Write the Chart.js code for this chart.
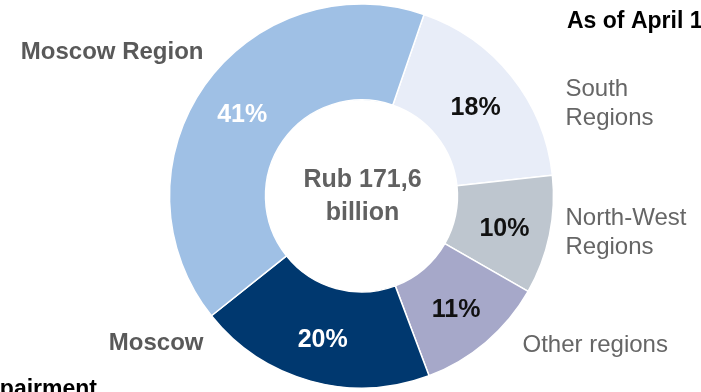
<!DOCTYPE html>
<html>
<head>
<meta charset="utf-8">
<script src="https://cdn.jsdelivr.net/npm/chart.js@4"></script>
<style>
  html, body { margin: 0; padding: 0; background: #fff; }
  #wrap { width: 701px; height: 392px; position: relative; }
</style>
</head>
<body>
<div id="wrap"><canvas id="c" width="701" height="392"></canvas></div>
<script>
// Loan portfolio by region, share of total (%)
const regions = ['South Regions', 'North-West Regions', 'Other regions', 'Moscow', 'Moscow Region'];
const shares = [18, 10, 11, 20, 41];
const sliceColors = ['#e8edf8', '#bec6cf', '#a6a8c9', '#00386f', '#9fc0e5'];
const shareTextColors = ['#111111', '#111111', '#111111', '#ffffff', '#ffffff'];
const totalLines = ['Rub 171,6', 'billion'];

// External region captions: [lines, dx from centre, baseline dy from centre, align, weight, size]
const captions = [
  [['South', 'Regions'], 204, -100, 'left', 'normal', 24],
  [['North-West', 'Regions'], 204, 29, 'left', 'normal', 24],
  [['Other regions'], 161, 156, 'left', 'normal', 24],
  [['Moscow'], -158, 154, 'right', 'bold', 24],
  [['Moscow Region'], -158, -137, 'right', 'bold', 24]
];

const FONT = '"Liberation Sans", Arial, Helvetica, sans-serif';

const labelPlugin = {
  id: 'labels',
  afterDatasetsDraw(chart) {
    const ctx = chart.ctx;
    const arcs = chart.getDatasetMeta(0).data;
    const cx = arcs[0].x, cy = arcs[0].y;
    ctx.save();

    // percentage inside each slice
    ctx.font = 'bold 25px ' + FONT;
    ctx.textAlign = 'center';
    ctx.textBaseline = 'middle';
    arcs.forEach((arc, i) => {
      const mid = (arc.startAngle + arc.endAngle) / 2;
      const r = (arc.innerRadius + arc.outerRadius) / 2 + 2;
      ctx.fillStyle = shareTextColors[i];
      ctx.fillText(shares[i] + '%', cx + Math.cos(mid) * r, cy + Math.sin(mid) * r + 3);
    });

    // total in the hole
    ctx.fillStyle = '#616161';
    ctx.fillText(totalLines[0], cx + 1, cy - 16);
    ctx.fillText(totalLines[1], cx + 1, cy + 17);

    // region captions around the ring
    ctx.textBaseline = 'alphabetic';
    captions.forEach(([lines, dx, dy, align, weight, size]) => {
      ctx.font = weight + ' ' + size + 'px ' + FONT;
      ctx.fillStyle = weight === 'bold' ? '#595959' : '#666666';
      ctx.textAlign = align;
      lines.forEach((t, k) => ctx.fillText(t, cx + dx, cy + dy + k * 28.5));
    });

    // surrounding slide text
    ctx.fillStyle = '#000000';
    ctx.font = 'bold 23px ' + FONT;
    ctx.textAlign = 'left';
    ctx.fillText('As of April 1, 2014', 567, 28);
    ctx.textAlign = 'right';
    ctx.fillText('impairment', 97, 396);
    ctx.restore();
  }
};

new Chart(document.getElementById('c'), {
  type: 'doughnut',
  data: {
    labels: regions,
    datasets: [{
      data: shares,
      backgroundColor: sliceColors,
      borderColor: '#ffffff',
      borderWidth: 1.5
    }]
  },
  options: {
    responsive: false,
    animation: false,
    rotation: 19,
    cutout: '50%',
    radius: 192,
    layout: { padding: { left: 22, right: 0, top: 0, bottom: 0 } },
    plugins: {
      legend: { display: false },
      tooltip: { enabled: false }
    }
  },
  plugins: [labelPlugin]
});
</script>
</body>
</html>
